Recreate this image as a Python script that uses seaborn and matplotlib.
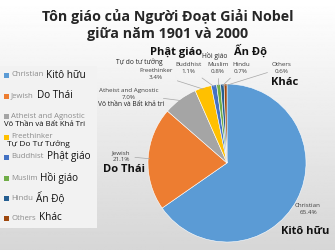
import numpy as np
import matplotlib
matplotlib.use("Agg")
import matplotlib.pyplot as plt
import seaborn as sns
from matplotlib.patches import Rectangle

# data
religions_en = ["Christian", "Jewish", "Atheist and Agnostic", "Freethinker",
                "Buddhist", "Muslim", "Hindu", "Others"]
legend_vi = ["Kitô hữu", "Do Thái", "Vô Thần và Bất Khả Tri", "Tự Do Tư Tưởng",
             "Phật giáo", "Hồi giáo", "Ấn Độ", "Khác"]
shares = [65.4, 21.1, 7.0, 3.4, 1.1, 0.8, 0.7, 0.6]
colors = ["#5B9BD5", "#ED7D31", "#A5A5A5", "#FFC000",
          "#4472C4", "#70AD47", "#255E91", "#9E480E"]
title = "Tôn giáo của Người Đoạt Giải Nobel\ngiữa năm 1901 và 2000"

sns.set_theme(style="white")
plt.rcParams["font.family"] = ["Open Sans", "DejaVu Sans"]

W, H = 335, 250
fig = plt.figure(figsize=(W / 100, H / 100), dpi=100)


def px(x, y):
    return x / W, 1 - y / H


# background gradient
bg = fig.add_axes([0, 0, 1, 1], zorder=-10)
grad = np.linspace(1.0, 0.84, 256).reshape(-1, 1)
bg.imshow(grad, cmap="gray", vmin=0, vmax=1, aspect="auto", extent=[0, 1, 0, 1])
bg.set_axis_off()

fig.text(0.5, px(0, 25)[1], title, ha="center", va="center",
         fontsize=10.3, fontweight="bold", linespacing=1.35)

# pie
cx, cy, r = 227, 163, 79
ax = fig.add_axes([(cx - r) / W, (H - cy - r) / H, 2 * r / W, 2 * r / H])
wedges, _ = ax.pie(shares, colors=colors, startangle=90, counterclock=False,
                   wedgeprops=dict(edgecolor="white", linewidth=0.4))
ax.set_xlim(-1, 1)
ax.set_ylim(-1, 1)
ax.set_axis_off()

# data labels (english + percent)
lab_pos = [(308, 209), (121, 156), (129, 94), (156, 74),
           (188, 68), (218, 68), (241, 68), (282, 68)]
for w, en, s, (lx, ly) in zip(wedges, religions_en, shares, lab_pos):
    ang = np.deg2rad((w.theta1 + w.theta2) / 2)
    edge = (0.98 * np.cos(ang), 0.98 * np.sin(ang))
    ax.annotate(f"{en}\n{s:.1f}%", xy=edge, xycoords="data",
                xytext=px(lx, ly), textcoords="figure fraction",
                ha="center", va="center", fontsize=4.5, color="#404040",
                linespacing=1.45,
                arrowprops=dict(arrowstyle="-", color="#a6a6a6", lw=0.5,
                                shrinkA=1, shrinkB=0))

# vietnamese pie labels
small_vi = [("Vô thần và Bất khả tri", 131, 104.5), ("Tự do tư tưởng", 139, 62),
            ("Hồi giáo", 215, 56)]
for t, x, y in small_vi:
    fig.text(*px(x, y), t, ha="center", va="center", fontsize=4.8, color="#262626")
big_vi = [(legend_vi[0], 305, 232), (legend_vi[1], 124, 170), (legend_vi[4], 176, 52),
          (legend_vi[6], 250, 51), (legend_vi[7], 285, 82)]
for t, x, y in big_vi:
    fig.text(*px(x, y), t, ha="center", va="center", fontsize=8.0,
             fontweight="bold", color="#111111")

# legend
fig.patches.append(Rectangle(px(0, 228), 97 / W, 162 / H, transform=fig.transFigure,
                             facecolor="#f2f2f2", edgecolor="none", zorder=-5))
leg_y = [75, 96, 116, 137, 157, 178, 198, 218]
for i, (en, vi, c, y) in enumerate(zip(religions_en, legend_vi, colors, leg_y)):
    fig.patches.append(Rectangle(px(4, y + 2.5), 5 / W, 5 / H, transform=fig.transFigure,
                                 facecolor=c, edgecolor="none"))
    t = fig.text(*px(11, y), en, ha="left", va="center", fontsize=5.6, color="#8c8c8c")
    if i in (2, 3):
        vy = y + (9 if i == 2 else 7)
        fig.text(*px(4 if i == 2 else 7, vy), vi, ha="left", va="center",
                 fontsize=5.6 if i == 2 else 6.0, color="#111111")
    else:
        fig.canvas.draw()
        bb = t.get_window_extent()
        fig.text(bb.x1 / W + 3 / W, px(0, y)[1], vi, ha="left", va="center",
                 fontsize=7.2, color="#111111")

fig.savefig("out.png", dpi=100)
